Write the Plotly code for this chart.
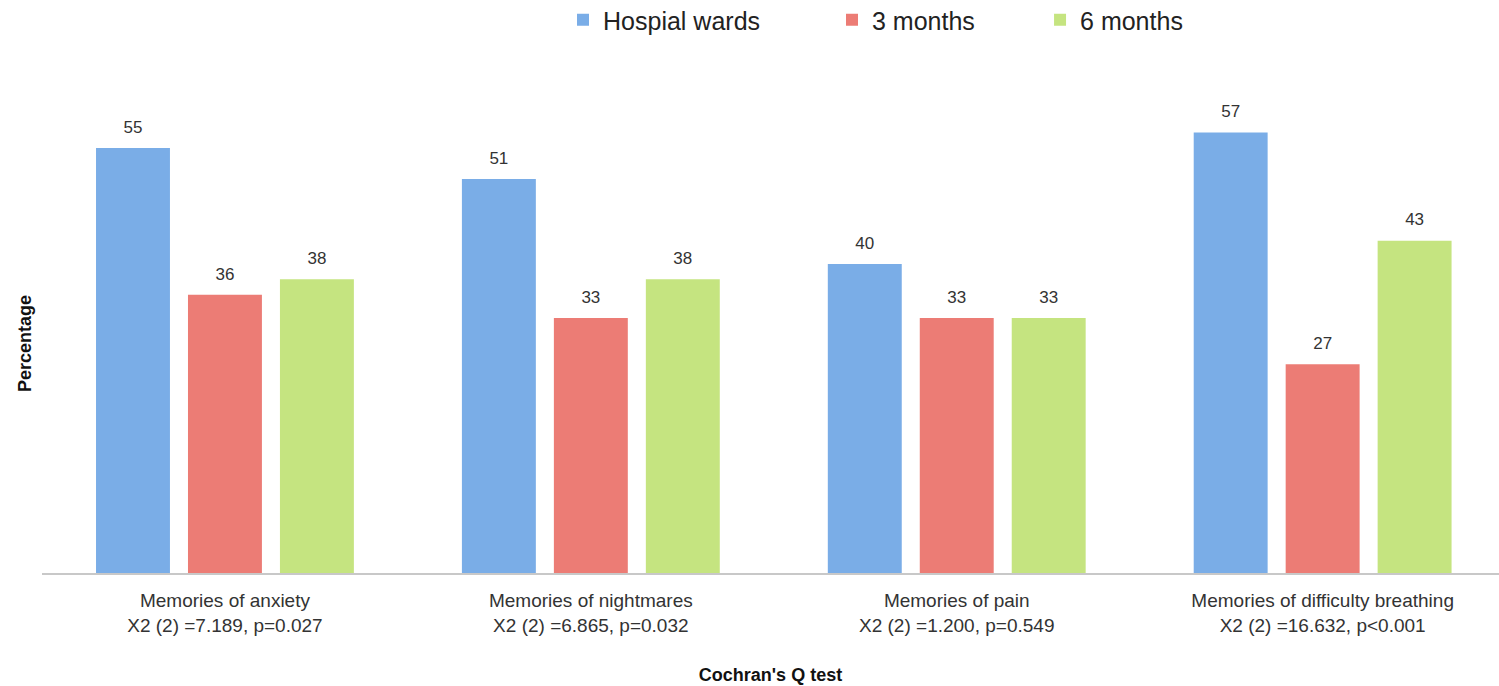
import plotly.graph_objects as go

categories = ["Memories of anxiety", "Memories of nightmares", "Memories of pain",
              "Memories of difficulty breathing"]
stats = ["X2 (2) =7.189, p=0.027", "X2 (2) =6.865, p=0.032",
         "X2 (2) =1.200, p=0.549", "X2 (2) =16.632, p<0.001"]
series_names = ["Hospial wards", "3 months", "6 months"]
hospital = [55, 51, 40, 57]
three_months = [36, 33, 33, 27]
six_months = [38, 38, 33, 43]

values = [hospital, three_months, six_months]
colors = ["#7aade7", "#ec7c75", "#c5e480"]
legend_ids = ["legend", "legend2", "legend3"]
legend_x = [0.3576, 0.5422, 0.6850]

labels = [f"{c}<br>{s}" for c, s in zip(categories, stats)]
FONT = "Liberation Sans, Arial, Helvetica, sans-serif"

fig = go.Figure()
for name, vals, col, lg in zip(series_names, values, colors, legend_ids):
    fig.add_trace(go.Bar(
        x=labels, y=vals, name=name, offsetgroup=name, legend=lg,
        marker=dict(color=col, line=dict(width=0)),
        hoverinfo="skip",
    ))
for name, vals in zip(series_names, values):
    fig.add_trace(go.Scatter(
        x=labels, y=vals, mode="markers+text", offsetgroup=name,
        text=[str(v) for v in vals], textposition="top center",
        textfont=dict(family=FONT, size=17, color="#333333"),
        marker=dict(size=16, color="rgba(0,0,0,0)"),
        cliponaxis=False, showlegend=False, hoverinfo="skip",
    ))

fig.add_annotation(
    text="<b>Percentage</b>", xref="paper", yref="paper",
    x=-0.0117, y=0.4665, xanchor="center", yanchor="middle",
    textangle=-90, showarrow=False,
    font=dict(family=FONT, size=18, color="#111111"),
)

legend_common = dict(orientation="h", y=1.1217, yanchor="middle", xanchor="left",
                     font=dict(family=FONT, size=25, color="#222222"),
                     itemwidth=30, bgcolor="rgba(0,0,0,0)")
fig.update_layout(
    width=1499, height=686, autosize=False,
    margin=dict(l=42, r=0, t=80, b=113, autoexpand=False),
    paper_bgcolor="white", plot_bgcolor="white",
    barmode="group", bargap=0.246, bargroupgap=0.196,
    scattermode="group", scattergap=0.246,
    font=dict(family=FONT, color="#333333"),
    legend=dict(x=legend_x[0], **legend_common),
    legend2=dict(x=legend_x[1], **legend_common),
    legend3=dict(x=legend_x[2], **legend_common),
    xaxis=dict(type="category", range=[-0.5, 3.482], showline=True,
               linecolor="#c8c8c8", linewidth=2, ticks="", showgrid=False,
               zeroline=False, tickfont=dict(family=FONT, size=19, color="#333333"),
               ticklabelstandoff=9,
               title=dict(text="<b>Cochran's Q test</b>", standoff=34,
                          font=dict(family=FONT, size=18, color="#111111"))),
    yaxis=dict(range=[0, 63.8], showticklabels=False, showgrid=False,
               zeroline=False, showline=False, ticks=""),
)

fig.write_html("out.html")
